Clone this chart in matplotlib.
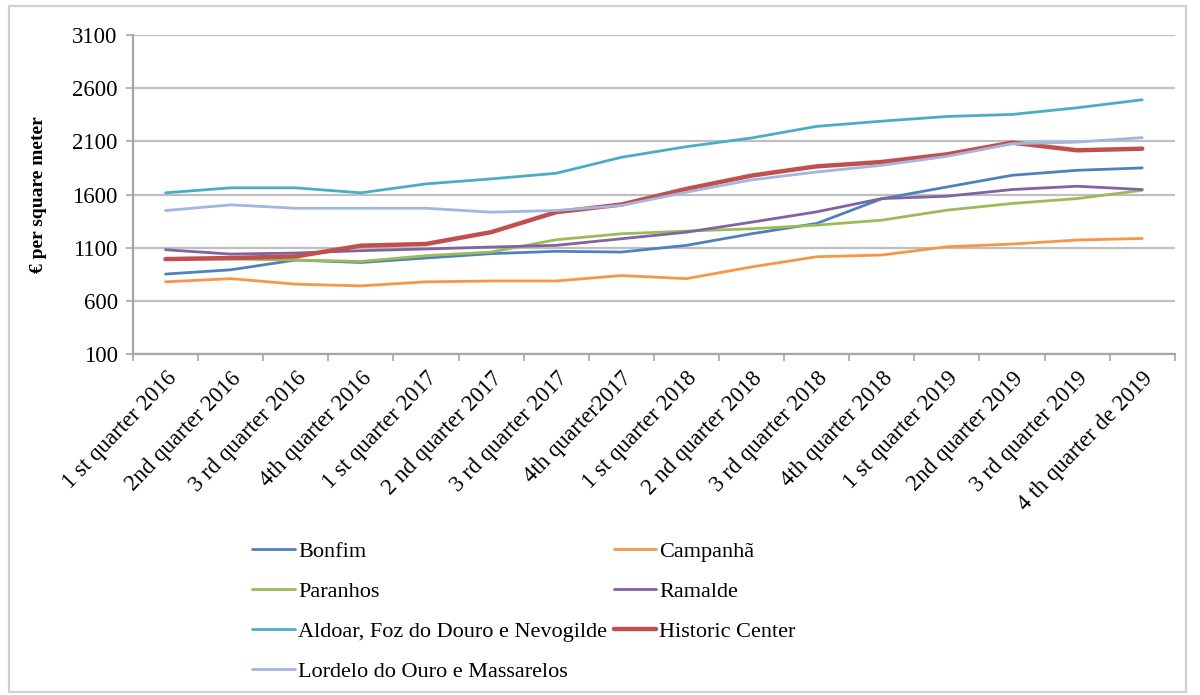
import matplotlib
matplotlib.use("Agg")
import matplotlib.pyplot as plt
from matplotlib.patches import Rectangle
import numpy as np

quarters = [
    "1 st quarter 2016", "2nd quarter 2016", "3 rd quarter 2016", "4th quarter 2016",
    "1 st quarter 2017", "2 nd quarter 2017", "3 rd quarter 2017", "4th quarter2017",
    "1 st quarter 2018", "2 nd quarter 2018", "3 rd quarter 2018", "4th quarter 2018",
    "1 st quarter 2019", "2nd quarter 2019", "3 rd quarter 2019", "4 th quarter de 2019",
]

bonfim = [852, 892, 984, 961, 1003, 1044, 1066, 1059, 1122, 1231, 1328, 1560, 1671, 1781, 1828, 1850]
campanha = [779, 809, 757, 741, 779, 787, 787, 838, 809, 919, 1015, 1031, 1109, 1134, 1172, 1187]
paranhos = [993, 993, 984, 971, 1025, 1059, 1175, 1231, 1256, 1278, 1312, 1359, 1453, 1516, 1562, 1640]
ramalde = [1081, 1040, 1050, 1072, 1088, 1106, 1122, 1184, 1246, 1340, 1437, 1562, 1584, 1647, 1678, 1647]
aldoar = [1616, 1663, 1663, 1616, 1700, 1747, 1800, 1950, 2050, 2132, 2241, 2290, 2334, 2353, 2416, 2491]
historic = [993, 1003, 1018, 1119, 1135, 1246, 1434, 1506, 1653, 1778, 1865, 1906, 1978, 2088, 2016, 2031]
lordelo = [1449, 1503, 1471, 1471, 1471, 1434, 1450, 1497, 1622, 1738, 1812, 1875, 1959, 2078, 2093, 2135]

series = [
    ("Bonfim", bonfim, "#4F81BD", 2.0),
    ("Campanhã", campanha, "#F79646", 2.0),
    ("Paranhos", paranhos, "#9BBB59", 2.0),
    ("Ramalde", ramalde, "#8064A2", 2.0),
    ("Aldoar, Foz do Douro e Nevogilde", aldoar, "#4BACC6", 2.0),
    ("Historic Center", historic, "#C0504D", 3.2),
    ("Lordelo do Ouro e Massarelos", lordelo, "#A3B5E0", 2.0),
]

plt.rcParams["font.family"] = ["Liberation Serif", "DejaVu Serif"]

fig = plt.figure(figsize=(12, 6.95), dpi=100)
ax = fig.add_axes([0.1108, 0.4906, 0.979 - 0.1108, 0.9496 - 0.4906])

x = np.arange(len(quarters))
handles = {}
for name, vals, color, lw in series:
    (ln,) = ax.plot(x, vals, color=color, lw=lw, solid_joinstyle="round",
                    solid_capstyle="round", zorder=3)
    handles[name] = ln

ax.set_xlim(-0.5, len(quarters) - 0.5)
ax.set_ylim(100, 3100)
ax.set_yticks(np.arange(100, 3101, 500))
ax.yaxis.grid(True, color="#BFBFBF", lw=1.6)
ax.set_axisbelow(True)

ax.set_xticks(x)
ax.set_xticklabels(quarters, rotation=46, ha="right", rotation_mode="anchor", fontsize=16.5)
ax.set_xticks(np.arange(-0.5, len(quarters), 1.0), minor=True)
ax.tick_params(axis="x", which="major", length=0, pad=10)
ax.tick_params(axis="x", which="minor", length=5, color="#A6A6A6", width=1.2)
ax.tick_params(axis="y", length=5, color="#A6A6A6", width=1.2, labelsize=16.5, pad=6)

for side in ("top", "right"):
    ax.spines[side].set_visible(False)
for side in ("left", "bottom"):
    ax.spines[side].set_color("#A6A6A6")
    ax.spines[side].set_linewidth(1.6)

ax.set_ylabel("€ per square meter", fontsize=14, fontweight="bold", labelpad=18)

order = ["Bonfim", "Paranhos", "Aldoar, Foz do Douro e Nevogilde",
         "Lordelo do Ouro e Massarelos", "Campanhã", "Ramalde", "Historic Center"]
leg = fig.legend([handles[n] for n in order], order, ncol=2, frameon=False,
                 loc="upper left", bbox_to_anchor=(0.203, 0.234), fontsize=16,
                 handlelength=1.9, handletextpad=0.15, columnspacing=0.3,
                 labelspacing=0.88, borderaxespad=0)

fig.patches.append(Rectangle((9 / 1200, 3 / 695), 1177 / 1200, 686 / 695,
                             transform=fig.transFigure, fill=False,
                             edgecolor="#D0D0D0", lw=1.6))

fig.savefig("out.png", dpi=100, facecolor="white")
